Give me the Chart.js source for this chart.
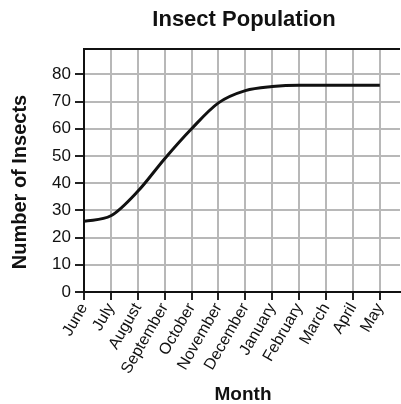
<!DOCTYPE html>
<html>
<head>
<meta charset="utf-8">
<script src="https://cdn.jsdelivr.net/npm/chart.js@4/dist/chart.umd.min.js"></script>
<style>
  html, body { margin: 0; padding: 0; background: #fff; }
</style>
</head>
<body>
<canvas id="chart" width="401" height="404"></canvas>
<script>
const months = ['June', 'July', 'August', 'September', 'October', 'November',
  'December', 'January', 'February', 'March', 'April', 'May'];
const insects = [26, 28, 37, 49, 60, 69.5, 74, 75.5, 76, 76, 76, 76];
const yTicks = [0, 10, 20, 30, 40, 50, 60, 70, 80];

const FONT = '"Liberation Sans", Arial, sans-serif';

// plot box top border + titles placed like the original figure
const frame = {
  id: 'frame',
  afterDraw(chart) {
    const { ctx, chartArea } = chart;
    ctx.save();
    ctx.strokeStyle = '#111';
    ctx.lineWidth = 2;
    ctx.beginPath();
    ctx.moveTo(chartArea.left - 1, chartArea.top);
    ctx.lineTo(chartArea.right, chartArea.top);
    ctx.stroke();

    ctx.fillStyle = '#111';
    ctx.textAlign = 'center';
    ctx.textBaseline = 'middle';
    ctx.font = 'bold 22px ' + FONT;
    ctx.fillText('Insect Population', 244, 20);

    ctx.font = 'bold 19px ' + FONT;
    ctx.fillText('Month', 243, 395);

    ctx.translate(20, 182);
    ctx.rotate(-Math.PI / 2);
    ctx.font = 'bold 20px ' + FONT;
    ctx.fillText('Number of Insects', 0, 0);
    ctx.restore();
  }
};

new Chart(document.getElementById('chart'), {
  type: 'line',
  data: {
    datasets: [{
      data: insects.map((v, i) => ({ x: i, y: v })),
      borderColor: '#111',
      borderWidth: 3,
      pointRadius: 0,
      fill: false,
      cubicInterpolationMode: 'monotone'
    }]
  },
  options: {
    responsive: false,
    animation: false,
    layout: { padding: { left: 0, right: 1, top: 49, bottom: 0 } },
    plugins: {
      legend: { display: false },
      tooltip: { enabled: false },
      title: { display: false }
    },
    scales: {
      x: {
        type: 'linear',
        min: 0,
        max: 11.75,
        afterBuildTicks: s => { s.ticks = months.map((m, i) => ({ value: i })); },
        afterFit: s => { s.height = 112; },
        ticks: {
          autoSkip: false,
          maxRotation: 60,
          minRotation: 60,
          padding: 0,
          color: '#111',
          font: { family: FONT, size: 16 },
          callback: v => months[v]
        },
        grid: {
          color: '#b8b8b8',
          lineWidth: 2,
          tickLength: 8,
          tickColor: '#222'
        },
        border: { color: '#111', width: 2 }
      },
      y: {
        min: 0,
        max: 89.3,
        afterBuildTicks: s => { s.ticks = yTicks.map(v => ({ value: v })); },
        afterFit: s => { s.width = 84; },
        ticks: {
          padding: 4,
          color: '#111',
          font: { family: FONT, size: 17 }
        },
        grid: {
          color: '#b8b8b8',
          lineWidth: 2,
          tickLength: 9,
          tickColor: '#222'
        },
        border: { color: '#111', width: 2 }
      }
    }
  },
  plugins: [frame]
});
</script>
</body>
</html>
